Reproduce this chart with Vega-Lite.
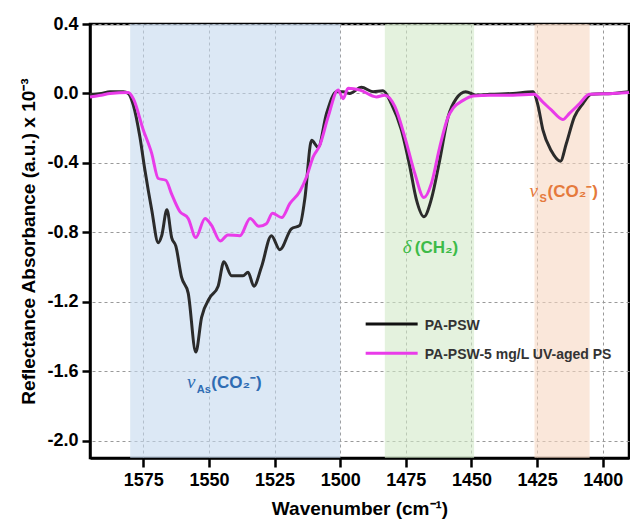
{
  "$schema": "https://vega.github.io/schema/vega-lite/v6.json",
  "width": 539,
  "height": 434,
  "autosize": {"type": "none"},
  "padding": {"left": 90, "top": 24, "right": 1, "bottom": 67},
  "background": "white",
  "config": {
    "font": "Liberation Sans",
    "view": {"stroke": "#000000", "strokeWidth": 2.5}
  },
  "datasets": {
    "bands": [
      {"x": 1580, "x2": 1500, "band": "blue"},
      {"x": 1483, "x2": 1449, "band": "green"},
      {"x": 1426, "x2": 1405, "band": "orange"}
    ],
    "spectra": [
      {"wn": 1595.3, "a": -0.005, "series": "PA-PSW"},
      {"wn": 1591, "a": 0.0, "series": "PA-PSW"},
      {"wn": 1587.7, "a": 0.01, "series": "PA-PSW"},
      {"wn": 1582.6, "a": 0.01, "series": "PA-PSW"},
      {"wn": 1580.7, "a": 0.0, "series": "PA-PSW"},
      {"wn": 1578.8, "a": -0.067, "series": "PA-PSW"},
      {"wn": 1576.3, "a": -0.25, "series": "PA-PSW"},
      {"wn": 1574.4, "a": -0.44, "series": "PA-PSW"},
      {"wn": 1571.8, "a": -0.67, "series": "PA-PSW"},
      {"wn": 1569.3, "a": -0.86, "series": "PA-PSW"},
      {"wn": 1568.0, "a": -0.82, "series": "PA-PSW"},
      {"wn": 1566.0, "a": -0.67, "series": "PA-PSW"},
      {"wn": 1564.2, "a": -0.83, "series": "PA-PSW"},
      {"wn": 1562.6, "a": -0.88, "series": "PA-PSW"},
      {"wn": 1560.4, "a": -1.06, "series": "PA-PSW"},
      {"wn": 1557.9, "a": -1.15, "series": "PA-PSW"},
      {"wn": 1555.0, "a": -1.49, "series": "PA-PSW"},
      {"wn": 1552.8, "a": -1.29, "series": "PA-PSW"},
      {"wn": 1549.8, "a": -1.18, "series": "PA-PSW"},
      {"wn": 1546.5, "a": -1.11, "series": "PA-PSW"},
      {"wn": 1544.3, "a": -0.97, "series": "PA-PSW"},
      {"wn": 1541.4, "a": -1.05, "series": "PA-PSW"},
      {"wn": 1537.0, "a": -1.05, "series": "PA-PSW"},
      {"wn": 1535.1, "a": -1.03, "series": "PA-PSW"},
      {"wn": 1532.9, "a": -1.11, "series": "PA-PSW"},
      {"wn": 1530.0, "a": -1.0, "series": "PA-PSW"},
      {"wn": 1526.2, "a": -0.82, "series": "PA-PSW"},
      {"wn": 1523.0, "a": -0.9, "series": "PA-PSW"},
      {"wn": 1518.6, "a": -0.78, "series": "PA-PSW"},
      {"wn": 1515.4, "a": -0.76, "series": "PA-PSW"},
      {"wn": 1513.5, "a": -0.61, "series": "PA-PSW"},
      {"wn": 1510.9, "a": -0.27, "series": "PA-PSW"},
      {"wn": 1508.4, "a": -0.31, "series": "PA-PSW"},
      {"wn": 1505.2, "a": -0.115, "series": "PA-PSW"},
      {"wn": 1501.4, "a": 0.01, "series": "PA-PSW"},
      {"wn": 1498.9, "a": 0.01, "series": "PA-PSW"},
      {"wn": 1496.4, "a": 0.0, "series": "PA-PSW"},
      {"wn": 1491.9, "a": 0.035, "series": "PA-PSW"},
      {"wn": 1487.5, "a": 0.01, "series": "PA-PSW"},
      {"wn": 1483.7, "a": 0.015, "series": "PA-PSW"},
      {"wn": 1480.5, "a": -0.06, "series": "PA-PSW"},
      {"wn": 1476.7, "a": -0.21, "series": "PA-PSW"},
      {"wn": 1473.5, "a": -0.42, "series": "PA-PSW"},
      {"wn": 1471.0, "a": -0.61, "series": "PA-PSW"},
      {"wn": 1468.1, "a": -0.71, "series": "PA-PSW"},
      {"wn": 1465.3, "a": -0.61, "series": "PA-PSW"},
      {"wn": 1462.1, "a": -0.385, "series": "PA-PSW"},
      {"wn": 1458.9, "a": -0.135, "series": "PA-PSW"},
      {"wn": 1455.8, "a": -0.03, "series": "PA-PSW"},
      {"wn": 1452.2, "a": 0.01, "series": "PA-PSW"},
      {"wn": 1448.2, "a": -0.01, "series": "PA-PSW"},
      {"wn": 1443.1, "a": -0.005, "series": "PA-PSW"},
      {"wn": 1434.2, "a": 0.0, "series": "PA-PSW"},
      {"wn": 1426.6, "a": 0.01, "series": "PA-PSW"},
      {"wn": 1424.7, "a": -0.067, "series": "PA-PSW"},
      {"wn": 1422.8, "a": -0.21, "series": "PA-PSW"},
      {"wn": 1419.6, "a": -0.33, "series": "PA-PSW"},
      {"wn": 1416.1, "a": -0.39, "series": "PA-PSW"},
      {"wn": 1413.9, "a": -0.29, "series": "PA-PSW"},
      {"wn": 1410.8, "a": -0.135, "series": "PA-PSW"},
      {"wn": 1407.6, "a": -0.06, "series": "PA-PSW"},
      {"wn": 1404.4, "a": -0.005, "series": "PA-PSW"},
      {"wn": 1396.2, "a": 0.0, "series": "PA-PSW"},
      {"wn": 1390.0, "a": 0.01, "series": "PA-PSW"},
      {"wn": 1595.3, "a": -0.02, "series": "PA-PSW-5 mg/L UV-aged PS"},
      {"wn": 1591, "a": -0.01, "series": "PA-PSW-5 mg/L UV-aged PS"},
      {"wn": 1587.7, "a": 0.0, "series": "PA-PSW-5 mg/L UV-aged PS"},
      {"wn": 1580.7, "a": 0.005, "series": "PA-PSW-5 mg/L UV-aged PS"},
      {"wn": 1578.8, "a": -0.03, "series": "PA-PSW-5 mg/L UV-aged PS"},
      {"wn": 1575.0, "a": -0.21, "series": "PA-PSW-5 mg/L UV-aged PS"},
      {"wn": 1571.8, "a": -0.345, "series": "PA-PSW-5 mg/L UV-aged PS"},
      {"wn": 1569.3, "a": -0.49, "series": "PA-PSW-5 mg/L UV-aged PS"},
      {"wn": 1566.4, "a": -0.5, "series": "PA-PSW-5 mg/L UV-aged PS"},
      {"wn": 1564.2, "a": -0.58, "series": "PA-PSW-5 mg/L UV-aged PS"},
      {"wn": 1561.1, "a": -0.68, "series": "PA-PSW-5 mg/L UV-aged PS"},
      {"wn": 1557.9, "a": -0.72, "series": "PA-PSW-5 mg/L UV-aged PS"},
      {"wn": 1555.0, "a": -0.83, "series": "PA-PSW-5 mg/L UV-aged PS"},
      {"wn": 1551.5, "a": -0.72, "series": "PA-PSW-5 mg/L UV-aged PS"},
      {"wn": 1549.0, "a": -0.76, "series": "PA-PSW-5 mg/L UV-aged PS"},
      {"wn": 1545.7, "a": -0.85, "series": "PA-PSW-5 mg/L UV-aged PS"},
      {"wn": 1542.8, "a": -0.815, "series": "PA-PSW-5 mg/L UV-aged PS"},
      {"wn": 1538.2, "a": -0.82, "series": "PA-PSW-5 mg/L UV-aged PS"},
      {"wn": 1534.3, "a": -0.72, "series": "PA-PSW-5 mg/L UV-aged PS"},
      {"wn": 1531.0, "a": -0.765, "series": "PA-PSW-5 mg/L UV-aged PS"},
      {"wn": 1528.1, "a": -0.75, "series": "PA-PSW-5 mg/L UV-aged PS"},
      {"wn": 1525.8, "a": -0.69, "series": "PA-PSW-5 mg/L UV-aged PS"},
      {"wn": 1522.3, "a": -0.715, "series": "PA-PSW-5 mg/L UV-aged PS"},
      {"wn": 1519.2, "a": -0.635, "series": "PA-PSW-5 mg/L UV-aged PS"},
      {"wn": 1515.4, "a": -0.565, "series": "PA-PSW-5 mg/L UV-aged PS"},
      {"wn": 1512.8, "a": -0.48, "series": "PA-PSW-5 mg/L UV-aged PS"},
      {"wn": 1510.3, "a": -0.365, "series": "PA-PSW-5 mg/L UV-aged PS"},
      {"wn": 1507.8, "a": -0.3, "series": "PA-PSW-5 mg/L UV-aged PS"},
      {"wn": 1504.6, "a": -0.135, "series": "PA-PSW-5 mg/L UV-aged PS"},
      {"wn": 1500.8, "a": 0.02, "series": "PA-PSW-5 mg/L UV-aged PS"},
      {"wn": 1498.9, "a": -0.03, "series": "PA-PSW-5 mg/L UV-aged PS"},
      {"wn": 1497.0, "a": 0.03, "series": "PA-PSW-5 mg/L UV-aged PS"},
      {"wn": 1492.5, "a": 0.02, "series": "PA-PSW-5 mg/L UV-aged PS"},
      {"wn": 1486.2, "a": -0.02, "series": "PA-PSW-5 mg/L UV-aged PS"},
      {"wn": 1483.0, "a": -0.01, "series": "PA-PSW-5 mg/L UV-aged PS"},
      {"wn": 1479.2, "a": -0.075, "series": "PA-PSW-5 mg/L UV-aged PS"},
      {"wn": 1475.4, "a": -0.25, "series": "PA-PSW-5 mg/L UV-aged PS"},
      {"wn": 1471.6, "a": -0.46, "series": "PA-PSW-5 mg/L UV-aged PS"},
      {"wn": 1468.1, "a": -0.6, "series": "PA-PSW-5 mg/L UV-aged PS"},
      {"wn": 1465.3, "a": -0.52, "series": "PA-PSW-5 mg/L UV-aged PS"},
      {"wn": 1462.1, "a": -0.31, "series": "PA-PSW-5 mg/L UV-aged PS"},
      {"wn": 1458.9, "a": -0.135, "series": "PA-PSW-5 mg/L UV-aged PS"},
      {"wn": 1457.0, "a": -0.085, "series": "PA-PSW-5 mg/L UV-aged PS"},
      {"wn": 1453.2, "a": -0.04, "series": "PA-PSW-5 mg/L UV-aged PS"},
      {"wn": 1449.4, "a": -0.015, "series": "PA-PSW-5 mg/L UV-aged PS"},
      {"wn": 1443.1, "a": -0.01, "series": "PA-PSW-5 mg/L UV-aged PS"},
      {"wn": 1434.2, "a": -0.01, "series": "PA-PSW-5 mg/L UV-aged PS"},
      {"wn": 1426.2, "a": -0.005, "series": "PA-PSW-5 mg/L UV-aged PS"},
      {"wn": 1422.8, "a": -0.05, "series": "PA-PSW-5 mg/L UV-aged PS"},
      {"wn": 1419.6, "a": -0.095, "series": "PA-PSW-5 mg/L UV-aged PS"},
      {"wn": 1415.2, "a": -0.15, "series": "PA-PSW-5 mg/L UV-aged PS"},
      {"wn": 1412.7, "a": -0.115, "series": "PA-PSW-5 mg/L UV-aged PS"},
      {"wn": 1408.9, "a": -0.06, "series": "PA-PSW-5 mg/L UV-aged PS"},
      {"wn": 1405.1, "a": -0.005, "series": "PA-PSW-5 mg/L UV-aged PS"},
      {"wn": 1396.2, "a": 0.0, "series": "PA-PSW-5 mg/L UV-aged PS"},
      {"wn": 1390.0, "a": 0.005, "series": "PA-PSW-5 mg/L UV-aged PS"}
    ],
    "ann": [
      {"x": 1558.4, "y": -1.697, "text": "ν", "kind": "greek", "grp": "blue"},
      {"x": 1554.6, "y": -1.725, "text": "As", "kind": "sub", "grp": "blue"},
      {"x": 1549.1, "y": -1.697, "text": "(CO₂⁻)", "kind": "main", "grp": "blue"},
      {"x": 1476.2, "y": -0.92, "text": "δ", "kind": "greek", "grp": "green"},
      {"x": 1471.6, "y": -0.92, "text": "(CH₂)", "kind": "main", "grp": "green"},
      {"x": 1427.9, "y": -0.597, "text": "ν", "kind": "greek", "grp": "orange"},
      {"x": 1424.1, "y": -0.625, "text": "S", "kind": "sub", "grp": "orange"},
      {"x": 1421.0, "y": -0.597, "text": "(CO₂⁻)", "kind": "main", "grp": "orange"}
    ],
    "leg": [
      {"x": 1490.3, "x2": 1470.5, "y": -1.328, "tx": 1467.8, "series": "PA-PSW"},
      {"x": 1490.3, "x2": 1470.5, "y": -1.497, "tx": 1467.8, "series": "PA-PSW-5 mg/L UV-aged PS"}
    ]
  },
  "layer": [
    {
      "data": {"name": "bands"},
      "mark": {"type": "rect", "opacity": 0.6},
      "encoding": {
        "x": {
          "field": "x", "type": "quantitative",
          "scale": {"domain": [1390, 1595.3], "reverse": true, "nice": false, "zero": false},
          "axis": {
            "values": [1587.5, 1575, 1562.5, 1550, 1537.5, 1525, 1512.5, 1500, 1487.5, 1475, 1462.5, 1450, 1437.5, 1425, 1412.5, 1400],
            "labelExpr": "datum.value % 25 == 0 ? datum.label : ''",
            "format": "d",
            "title": "Wavenumber (cm⁻¹)",
            "titleFontSize": 19, "titleFontWeight": "bold", "titleColor": "#000", "titlePadding": 10,
            "labelFontSize": 18, "labelFontWeight": "bold", "labelColor": "#000", "labelPadding": 4,
            "domainColor": "#000", "domainWidth": 2.5,
            "tickColor": "#000", "tickWidth": 2.5,
            "tickSize": {"condition": {"test": "datum.value % 25 == 0", "value": 9}, "value": 5},
            "grid": true, "gridColor": "#999", "gridDash": [3, 3], "gridWidth": 1,
            "gridOpacity": {"condition": {"test": "datum.value % 25 == 0", "value": 1}, "value": 0},
            "labelFlush": false, "labelOverlap": false
          }
        },
        "x2": {"field": "x2"},
        "color": {
          "field": "band", "type": "nominal",
          "scale": {"domain": ["blue", "green", "orange"], "range": ["#c5d9ee", "#d2eac8", "#f7d7c2"]},
          "legend": null
        }
      }
    },
    {
      "data": {"name": "spectra"},
      "mark": {"type": "line", "strokeWidth": 3, "interpolate": "monotone"},
      "encoding": {
        "x": {"field": "wn", "type": "quantitative"},
        "y": {
          "field": "a", "type": "quantitative",
          "scale": {"domain": [-2.1, 0.4], "nice": false, "zero": false},
          "axis": {
            "values": [-2.0, -1.8, -1.6, -1.4, -1.2, -1.0, -0.8, -0.6, -0.4, -0.2, 0.0, 0.2, 0.4],
            "labelExpr": "abs(round(datum.value*10)) % 4 == 0 ? replace(format(datum.value, '.1f'), '−', '-') : ''",
            "title": "Reflectance Absorbance (a.u.) x 10⁻³",
            "titleFontSize": 19, "titleFontWeight": "bold", "titleColor": "#000", "titlePadding": 8,
            "labelFontSize": 18, "labelFontWeight": "bold", "labelColor": "#000", "labelPadding": 4,
            "domainColor": "#000", "domainWidth": 2.5,
            "tickColor": "#000", "tickWidth": 2.5,
            "tickSize": {"condition": {"test": "abs(round(datum.value*10)) % 4 == 0", "value": 8}, "value": 5},
            "grid": true, "gridColor": "#999", "gridDash": [3, 3], "gridWidth": 1,
            "gridOpacity": {"condition": {"test": "abs(round(datum.value*10)) % 4 == 0", "value": 1}, "value": 0},
            "labelFlush": false, "labelOverlap": false
          }
        },
        "color": {
          "field": "series", "type": "nominal",
          "scale": {"domain": ["PA-PSW", "PA-PSW-5 mg/L UV-aged PS"], "range": ["#2b2b2b", "#e93be9"]},
          "legend": null
        }
      }
    },
    {
      "data": {"name": "leg"},
      "mark": {"type": "rule", "strokeWidth": 3},
      "encoding": {
        "x": {"field": "x", "type": "quantitative"},
        "x2": {"field": "x2"},
        "y": {"field": "y", "type": "quantitative"},
        "color": {
          "field": "series", "type": "nominal",
          "scale": {"domain": ["PA-PSW", "PA-PSW-5 mg/L UV-aged PS"], "range": ["#111111", "#e93be9"]},
          "legend": null
        }
      }
    },
    {
      "data": {"name": "leg"},
      "mark": {"type": "text", "align": "left", "baseline": "middle", "dy": 2, "fontSize": 14, "fontWeight": "bold", "color": "#333"},
      "encoding": {
        "x": {"field": "tx", "type": "quantitative"},
        "y": {"field": "y", "type": "quantitative"},
        "text": {"field": "series"}
      }
    },
    {
      "data": {"name": "ann"},
      "transform": [{"filter": "datum.kind == 'greek'"}],
      "mark": {"type": "text", "align": "left", "baseline": "alphabetic", "font": "Liberation Serif", "fontStyle": "italic", "fontSize": 19},
      "encoding": {
        "x": {"field": "x", "type": "quantitative"},
        "y": {"field": "y", "type": "quantitative"},
        "text": {"field": "text"},
        "color": {"field": "grp", "type": "nominal", "scale": {"domain": ["blue", "green", "orange"], "range": ["#2f6cb3", "#3dbb48", "#e57a3c"]}, "legend": null}
      }
    },
    {
      "data": {"name": "ann"},
      "transform": [{"filter": "datum.kind == 'sub'"}],
      "mark": {"type": "text", "align": "left", "baseline": "alphabetic", "fontSize": 11, "fontWeight": "bold"},
      "encoding": {
        "x": {"field": "x", "type": "quantitative"},
        "y": {"field": "y", "type": "quantitative"},
        "text": {"field": "text"},
        "color": {"field": "grp", "type": "nominal", "scale": {"domain": ["blue", "green", "orange"], "range": ["#2f6cb3", "#3dbb48", "#e57a3c"]}, "legend": null}
      }
    },
    {
      "data": {"name": "ann"},
      "transform": [{"filter": "datum.kind == 'main'"}],
      "mark": {"type": "text", "align": "left", "baseline": "alphabetic", "fontSize": 17, "fontWeight": "bold"},
      "encoding": {
        "x": {"field": "x", "type": "quantitative"},
        "y": {"field": "y", "type": "quantitative"},
        "text": {"field": "text"},
        "color": {"field": "grp", "type": "nominal", "scale": {"domain": ["blue", "green", "orange"], "range": ["#2f6cb3", "#3dbb48", "#e57a3c"]}, "legend": null}
      }
    }
  ],
  "resolve": {"scale": {"color": "independent"}}
}
